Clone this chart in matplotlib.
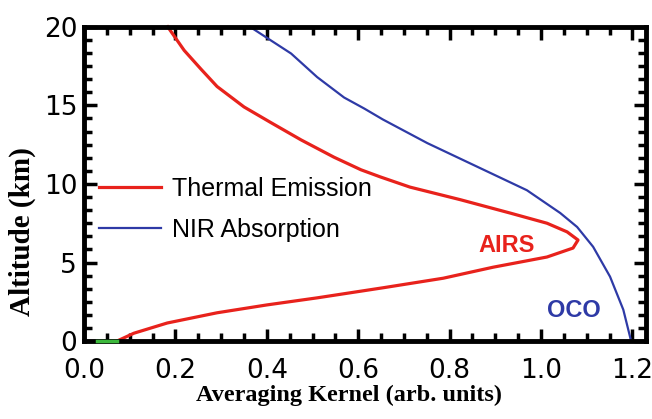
import matplotlib
matplotlib.use("Agg")
import matplotlib.pyplot as plt
from matplotlib.ticker import MultipleLocator, AutoMinorLocator

# AIRS thermal emission kernel (x, altitude)
airs_x = [0.072, 0.109, 0.182, 0.291, 0.400, 0.510, 0.656, 0.786, 0.895, 1.013,
          1.070, 1.081, 1.057, 1.013, 0.932, 0.823, 0.713, 0.648, 0.606, 0.547,
          0.475, 0.409, 0.350, 0.291, 0.256, 0.219, 0.183]
airs_alt = [0.0, 0.5, 1.15, 1.8, 2.3, 2.75, 3.4, 4.0, 4.7, 5.35,
            5.92, 6.43, 6.95, 7.5, 8.15, 9.0, 9.8, 10.45, 10.9, 11.7,
            12.8, 13.9, 14.9, 16.2, 17.3, 18.5, 20.0]

# OCO NIR absorption kernel
oco_x = [1.197, 1.195, 1.18, 1.151, 1.114, 1.079, 1.042, 0.969, 0.860, 0.751,
         0.654, 0.613, 0.569, 0.510, 0.453, 0.400, 0.363]
oco_alt = [0.0, 0.25, 2.0, 4.1, 6.0, 7.26, 8.15, 9.6, 11.1, 12.6,
           14.1, 14.8, 15.5, 16.8, 18.3, 19.3, 20.0]

# short green piece at the surface
green_x = [0.028, 0.072]
green_alt = [0.0, 0.0]

red = '#e8221c'
blue = '#2e3aa6'

fig = plt.figure(figsize=(6.52, 4.19), dpi=100)
ax = fig.add_axes([0.129, 0.186, 0.862, 0.750])

ax.plot(green_x, green_alt, color='#3cb83c', lw=2.5, clip_on=False, zorder=3)
ax.plot(airs_x, airs_alt, color=red, lw=2.3, label='Thermal Emission',
        clip_on=False, solid_joinstyle='round')
ax.plot(oco_x, oco_alt, color=blue, lw=1.6, label='NIR Absorption',
        clip_on=False, solid_joinstyle='round')

ax.set_xlim(0, 1.23)
ax.set_ylim(0, 20)
ax.xaxis.set_major_locator(MultipleLocator(0.2))
ax.xaxis.set_minor_locator(AutoMinorLocator(4))
ax.yaxis.set_major_locator(MultipleLocator(5))
ax.yaxis.set_minor_locator(AutoMinorLocator(6))
ax.xaxis.set_major_formatter(plt.FuncFormatter(lambda v, p: f"{v:.1f}"))

for s in ax.spines.values():
    s.set_linewidth(3.5)
ax.tick_params(which='both', direction='in', top=True, right=True, width=2.5)
ax.tick_params(which='major', length=9, labelsize=19)
ax.tick_params(which='minor', length=5.5)
ax.tick_params(axis='x', which='major', pad=12)
ax.tick_params(axis='y', which='major', pad=5)

ax.set_xlabel('Averaging Kernel (arb. units)', family='Liberation Serif',
              fontweight='bold', fontsize=17.5)
ax.set_ylabel('Altitude (km)', family='Liberation Serif',
              fontweight='bold', fontsize=21)
ax.xaxis.set_label_coords(0.472, -0.14)
ax.yaxis.set_label_coords(-0.085, 0.35)

ax.legend(loc='upper left', bbox_to_anchor=(0.027, 0.522), frameon=False,
          prop={'family': 'Liberation Sans', 'size': 18},
          handlelength=2.45, handletextpad=0.45, labelspacing=0.68,
          borderaxespad=0, borderpad=0)

ax.text(0.862, 5.67, 'AIRS', color=red, fontsize=17, fontweight='bold',
        family='Liberation Sans')
ax.text(1.013, 1.53, 'OCO', color=blue, fontsize=17, fontweight='bold',
        family='Liberation Sans')

fig.savefig('out.png', dpi=100)
